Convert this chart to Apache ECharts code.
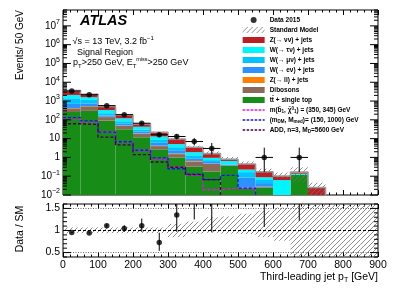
<!DOCTYPE html>
<html><head><meta charset="utf-8">
<script src="https://cdn.jsdelivr.net/npm/echarts@6/dist/echarts.min.js"></script>
<style>html,body{margin:0;padding:0;background:#fff}#c{width:403px;height:289px}</style>
</head><body><div id="c"></div>
<script>
// ---------------- data ----------------
const binLow = [0,50,100,150,200,250,300,350,400,450,500,550,600,650,700,750,800,850];
const BW = 50;
const ttbar  = [260, 300, 90, 32, 12, 2.7, 1.0, 0.32, 0.18, 0.35, 0.023, 0.025, 0, 0.12, 0, 0, 0, 0];
const dibos  = [150, 225, 50, 16, 6, 1.3, 0.5, 0.28, 0.27, 0.03, 0.002, 0.003, 0, 0, 0, 0, 0, 0];
const zll    = [15, 15, 5, 2, 0.8, 0.2, 0.1, 0.05, 0.02, 0, 0, 0, 0, 0, 0, 0, 0, 0];
const wenu   = [280, 210, 25, 12, 5, 1.8, 0.8, 0.25, 0.1, 0.02, 0.06, 0.015, 0, 0, 0, 0, 0, 0];
const wmunu  = [700, 400, 55, 22, 7, 2.5, 1.1, 0.4, 0.15, 0.03, 0.08, 0.02, 0, 0, 0, 0, 0, 0];
const wtaunu = [700, 450, 105, 36, 12, 4.5, 1.6, 0.6, 0.23, 0.22, 0.06, 0.025, 0.062, 0.015, 0, 0, 0, 0];
const znunu  = [1500, 710, 190, 61, 17, 9, 4.5, 1.6, 0.65, 0.15, 0.22, 0.085, 0.04, 0.03, 0.025, 0, 0, 0];

const sigSbottom = [108, 75, 22, 6.5, 2.4, 0.85, 0.32, 0.11, 0.019, 0.023, 0.022, 0, 0, 0, 0, 0, 0, 0];
const sigDM      = [131, 87, 22, 6.8, 2.4, 0.95, 0.25, 0.13, 0.065, 0.11, 0.023, 0, 0, 0, 0, 0, 0, 0];
const sigADD     = [62, 56, 12, 4.6, 1.4, 0.57, 0.3, 0.12, 0.065, 0, 0, 0, 0, 0, 0, 0, 0, 0];

const dataVals  = [3430, 2180, 570, 189, 66, 16, 13, 7, 3, 0, 0, 1, 0, 1, 0, 0, 0, 0];
const dataErrLo = [3371, 2133, 546, 175, 58, 12.0, 9.4, 4.4, 1.4, 0, 0, 0.17, 0, 0.17, 0, 0, 0, 0];
const dataErrHi = [3489, 2227, 594, 203, 74, 20.1, 16.7, 10.6, 5.9, 0, 0, 3.3, 0, 3.3, 0, 0, 0, 0];

const ratioVals = [0.955, 0.945, 1.11, 1.045, 1.11, 0.73, 1.35, 2.0, 1.9, null, null, 5.9, null, 6.1, null, null, null, null];
const ratioLo   = [0.94, 0.93, 1.07, 0.97, 0.97, 0.54, 0.97, 1.25, 0.96, null, null, 1.08, null, 1.22, null, null, null, null];
const ratioHi   = [0.97, 0.96, 1.15, 1.12, 1.27, 0.95, 1.75, 3.0, 3.7, null, null, 19, null, 20, null, null, null, null];

const bandLo = [0.94, 0.94, 0.94, 0.94, 0.94, 0.94, 0.85, 0.93, 0.95, 0.93, 0.92, 0.85, 0.77, 0.3, 0.3, 0.3, 0.3, 0.3];
const bandHi = [1.07, 1.07, 1.07, 1.07, 1.07, 1.07, 1.15, 1.2, 1.3, 1.32, 1.38, 1.45, 1.52, 1.8, 1.8, 1.8, 1.8, 1.8];

const xTickLabels = ['0','100','200','300','400','500','600','700','800','900'];

// ---------------- setup ----------------
const FONT = '"Liberation Sans", Arial, Helvetica, sans-serif';
const Y_MIN = 0.01, Y_MAX = 7e7, R_MIN = 0.4, R_MAX = 1.6;
const LOW = 1e-5; // draw-only stand-in for empty bins (clipped below the frame)

function makeHatch() {
  const c = document.createElement('canvas'); c.width = 5; c.height = 5;
  const g = c.getContext('2d');
  g.strokeStyle = '#707070'; g.lineWidth = 0.8;
  g.beginPath();
  g.moveTo(0, 5); g.lineTo(5, 0);
  g.moveTo(-1, 1); g.lineTo(1, -1);
  g.moveTo(4, 6); g.lineTo(6, 4);
  g.stroke();
  return c;
}
const hatch = { image: makeHatch(), repeat: 'repeat' };

const comps = [
  { name: 'tt\u0304 + single top', vals: ttbar,  color: '#178C17' },
  { name: 'Dibosons',              vals: dibos,  color: '#8C6A5A' },
  { name: 'Z(\u2192 ll) + jets',   vals: zll,    color: '#FF8000' },
  { name: 'W(\u2192 e\u03bd) + jets', vals: wenu, color: '#2A93FF' },
  { name: 'W(\u2192 \u03bc\u03bd) + jets', vals: wmunu, color: '#00C4FF' },
  { name: 'W(\u2192 \u03c4\u03bd) + jets', vals: wtaunu, color: '#00F6FF' },
  { name: 'Z(\u2192 \u03bd\u03bd) + jets', vals: znunu, color: '#BC1E24' }
];

const sm = binLow.map((_, k) => comps.reduce((s, c) => s + c.vals[k], 0));

function clipRect(p0, p1, cs) {
  return echarts.graphic.clipRectByRect(
    { x: p0[0], y: p0[1], width: p1[0] - p0[0], height: p1[1] - p0[1] },
    { x: cs.x, y: cs.y, width: cs.width, height: cs.height });
}
function rectRenderer(fill) {
  return function (params, api) {
    const p0 = api.coord([api.value(0), api.value(3)]);
    const p1 = api.coord([api.value(1), api.value(2)]);
    const shape = clipRect(p0, p1, params.coordSys);
    if (!shape) return null;
    return { type: 'rect', shape: shape, style: { fill: fill } };
  };
}

const series = [];
// stack
let cumBelow = binLow.map(() => 0);
comps.forEach(c => {
  const rows = [];
  binLow.forEach((x, k) => {
    const lo = cumBelow[k], hi = lo + c.vals[k];
    if (c.vals[k] > 0 && hi > Y_MIN) rows.push([x, x + BW, Math.max(lo, Y_MIN), hi]);
  });
  cumBelow = cumBelow.map((v, k) => v + c.vals[k]);
  series.push({
    type: 'custom', name: c.name, xAxisIndex: 0, yAxisIndex: 0, z: 2,
    renderItem: rectRenderer(c.color), itemStyle: { color: c.color },
    encode: { x: [0, 1], y: [2, 3] }, data: rows, silent: true
  });
});

// SM uncertainty (top)
const smBandRows = [];
binLow.forEach((x, k) => {
  if (sm[k] > 0) smBandRows.push([x, x + BW, Math.max(sm[k] * bandLo[k], Y_MIN), sm[k] * bandHi[k]]);
});
series.push({
  type: 'custom', name: 'Standard Model', xAxisIndex: 0, yAxisIndex: 0, z: 3,
  renderItem: rectRenderer(hatch), itemStyle: { color: hatch },
  encode: { x: [0, 1], y: [2, 3] }, data: smBandRows, silent: true
});
// SM outline
function stepPoints(vals) {
  const pts = binLow.map((x, k) => [x, vals[k] > 0 ? vals[k] : LOW]);
  pts.push([binLow[binLow.length - 1] + BW, vals[vals.length - 1] > 0 ? vals[vals.length - 1] : LOW]);
  return pts;
}
series.push({
  type: 'line', name: 'smline', xAxisIndex: 0, yAxisIndex: 0, z: 4, step: 'end',
  data: stepPoints(sm), symbol: 'none', clip: true,
  lineStyle: { color: '#9a9a9a', width: 1.6 }, silent: true
});

// signals
const sigs = [
  { name: 'sbottom', vals: sigSbottom, color: '#FF00FF' },
  { name: 'dm', vals: sigDM, color: '#1010FF' },
  { name: 'add', vals: sigADD, color: '#420040' }
];
sigs.forEach(s => series.push({
  type: 'line', name: s.name, xAxisIndex: 0, yAxisIndex: 0, z: 5, step: 'end',
  data: stepPoints(s.vals), symbol: 'none', showSymbol: false, clip: true,
  itemStyle: { color: s.color },
  lineStyle: { color: s.color, width: 1.3, type: [3, 2] }, silent: true
}));

// data (top)
const dataPts = [], dataErr = [];
binLow.forEach((x, k) => {
  if (dataVals[k] > 0) {
    dataPts.push([x + BW / 2, dataVals[k]]);
    dataErr.push([x + BW / 2, dataErrLo[k], dataErrHi[k], dataVals[k]]);
  }
});
series.push({
  type: 'custom', name: 'dataerr', xAxisIndex: 0, yAxisIndex: 0, z: 6,
  encode: { x: 0, y: [1, 2, 3] }, data: dataErr, silent: true,
  renderItem: function (params, api) {
    const xc = api.value(0), lo = api.value(1), hi = api.value(2), v = api.value(3);
    const a = api.coord([xc, Math.max(lo, Y_MIN)]), b = api.coord([xc, Math.min(hi, Y_MAX)]);
    const l = api.coord([xc - BW / 2, v]), r = api.coord([xc + BW / 2, v]);
    return { type: 'group', children: [
      { type: 'line', shape: { x1: a[0], y1: a[1], x2: b[0], y2: b[1] }, style: { stroke: '#000', lineWidth: 1 } },
      { type: 'line', shape: { x1: l[0], y1: l[1], x2: r[0], y2: r[1] }, style: { stroke: '#000', lineWidth: 1 } }
    ] };
  }
});
series.push({
  type: 'scatter', name: 'Data 2015', xAxisIndex: 0, yAxisIndex: 0, z: 7,
  data: dataPts, symbol: 'circle', symbolSize: 5.5, itemStyle: { color: '#000' }, silent: true
});

// ---------------- ratio panel ----------------
const rBandRows = binLow.map((x, k) => [x, x + BW, Math.max(bandLo[k], R_MIN), Math.min(bandHi[k], R_MAX)]);
series.push({
  type: 'custom', name: 'rband', xAxisIndex: 2, yAxisIndex: 1, z: 2,
  renderItem: rectRenderer(hatch), encode: { x: [0, 1], y: [2, 3] }, data: rBandRows, silent: true
});
const rPts = [], rErr = [];
binLow.forEach((x, k) => {
  if (ratioVals[k] != null) {
    rPts.push([x + BW / 2, ratioVals[k]]);
    rErr.push([x + BW / 2, Math.max(ratioLo[k], R_MIN), Math.min(ratioHi[k], R_MAX)]);
  }
});
series.push({
  type: 'custom', name: 'rerr', xAxisIndex: 2, yAxisIndex: 1, z: 6,
  encode: { x: 0, y: [1, 2] }, data: rErr, silent: true,
  renderItem: function (params, api) {
    const a = api.coord([api.value(0), api.value(1)]), b = api.coord([api.value(0), api.value(2)]);
    return { type: 'line', shape: { x1: a[0], y1: a[1], x2: b[0], y2: b[1] }, style: { stroke: '#000', lineWidth: 1 } };
  }
});
series.push({
  type: 'scatter', name: 'rdata', xAxisIndex: 2, yAxisIndex: 1, z: 7, clip: true,
  data: rPts, symbol: 'circle', symbolSize: 5.5, itemStyle: { color: '#000' }, silent: true,
  markLine: {
    silent: true, symbol: ['none', 'none'], label: { show: false }, animation: false,
    data: [
      { yAxis: 1, lineStyle: { color: '#000', width: 1, type: [3, 2] } },
      { yAxis: 0.5, lineStyle: { color: '#444', width: 0.8, type: [1, 1.5] } },
      { yAxis: 1.5, lineStyle: { color: '#444', width: 0.8, type: [1, 1.5] } }
    ]
  }
});

// ---------------- y ticks (both sides, inside) ----------------
const logMajor = [], logMinor = [];
for (let n = -2; n <= 7; n++) {
  logMajor.push(Math.pow(10, n));
  for (let m = 2; m <= 9; m++) if (m * Math.pow(10, n) <= Y_MAX) logMinor.push(m * Math.pow(10, n));
}
const rMajor = [0.5, 1.0, 1.5];
const rMinor = [0.4, 0.6, 0.7, 0.8, 0.9, 1.1, 1.2, 1.3, 1.4, 1.6];
function yTicks(majors, minors, majLen, minLen) {
  return function (params, api) {
    const cs = params.coordSys, ch = [];
    const add = (v, len) => {
      const y = api.coord([0, v])[1];
      if (y < cs.y - 0.6 || y > cs.y + cs.height + 0.6) return;
      ch.push({ type: 'line', shape: { x1: cs.x, y1: y, x2: cs.x + len, y2: y }, style: { stroke: '#000', lineWidth: 1 } });
      ch.push({ type: 'line', shape: { x1: cs.x + cs.width, y1: y, x2: cs.x + cs.width - len, y2: y }, style: { stroke: '#000', lineWidth: 1 } });
    };
    majors.forEach(v => add(v, majLen));
    minors.forEach(v => add(v, minLen));
    return { type: 'group', children: ch };
  };
}
series.push({ type: 'custom', name: 'yt0', xAxisIndex: 0, yAxisIndex: 0, z: 9, silent: true,
  data: [[0, 1]], renderItem: yTicks(logMajor, logMinor, 8, 4) });
series.push({ type: 'custom', name: 'yt1', xAxisIndex: 2, yAxisIndex: 1, z: 9, silent: true,
  data: [[0, 1]], renderItem: yTicks(rMajor, rMinor, 8, 4) });

// ---------------- axes ----------------
function xAx(grid, pos, labels) {
  return {
    type: 'value', gridIndex: grid, position: pos, min: 0, max: 900, interval: 100,
    axisLine: { show: false }, splitLine: { show: false },
    axisTick: { show: true, inside: true, length: 5, lineStyle: { color: '#000', width: 1 } },
    minorTick: { show: true, splitNumber: 5, length: 2.5, lineStyle: { color: '#000', width: 1 } },
    axisLabel: labels ? {
      show: true, fontSize: 10.5, fontFamily: FONT, color: '#000', margin: 3,
      formatter: v => xTickLabels[Math.round(v / 100)]
    } : { show: false }
  };
}
const supExp = e => (e < 0 ? '\u2212' + (-e) : '' + e);

const legendLabels = {
  'sbottom': 'm(b\u0303{sub|1}, \u03c7\u0303{sup|0}{sub|1}) = (350, 345) GeV',
  'dm': '(m{sub|DM}, M{sub|med})= (150, 1000) GeV',
  'add': 'ADD, n=3, M{sub|D}=5600 GeV'
};
const LW = 'bold';
const legendRich = {
  sub: { fontSize: 4.5, lineHeight: 5, verticalAlign: 'bottom', fontFamily: FONT, fontWeight: LW, color: '#000' },
  sup: { fontSize: 4.5, lineHeight: 5, verticalAlign: 'top', fontFamily: FONT, fontWeight: LW, color: '#000' }
};
const lineLegend = (name, color) => ({
  name: name, itemStyle: { opacity: 0, color: color, borderWidth: 0 },
  lineStyle: { color: color, width: 1.3, type: [2.5, 1.5] }
});

const option = {
  animation: false,
  backgroundColor: '#fff',
  grid: [
    { left: 63, top: 10, width: 315, height: 185, show: true, borderColor: '#000', borderWidth: 1, backgroundColor: 'transparent', containLabel: false, outerBoundsMode: 'none' },
    { left: 63, top: 204, width: 315, height: 53, show: true, borderColor: '#000', borderWidth: 1, backgroundColor: 'transparent', containLabel: false, outerBoundsMode: 'none' }
  ],
  xAxis: [xAx(0, 'bottom', false), xAx(0, 'top', false), xAx(1, 'bottom', true), xAx(1, 'top', false)],
  yAxis: [
    {
      type: 'log', logBase: 10, gridIndex: 0, min: Y_MIN, max: Y_MAX,
      axisLine: { show: false }, axisTick: { show: false }, splitLine: { show: false }, minorTick: { show: false },
      axisLabel: {
        show: true, fontSize: 10, fontFamily: FONT, color: '#000', margin: 3, lineHeight: 14,
        formatter: function (v) {
          const lg = Math.log10(v), e = Math.round(lg);
          if (Math.abs(lg - e) > 1e-6) return '';
          if (e === 0) return '1';
          if (e === 1) return '10';
          return '10{sup|' + supExp(e) + '}';
        },
        rich: { sup: { fontSize: 7, lineHeight: 7, verticalAlign: 'top', fontFamily: FONT, color: '#000' } }
      }
    },
    {
      type: 'value', gridIndex: 1, min: R_MIN, max: R_MAX, interval: 0.1,
      axisLine: { show: false }, axisTick: { show: false }, splitLine: { show: false },
      axisLabel: {
        show: true, fontSize: 10.5, fontFamily: FONT, color: '#000', margin: 3,
        formatter: function (v) {
          if (Math.abs(v - 0.5) < 1e-6) return '0.5';
          if (Math.abs(v - 1) < 1e-6) return '1';
          if (Math.abs(v - 1.5) < 1e-6) return '1.5';
          return '';
        }
      }
    }
  ],
  legend: {
    orient: 'vertical', left: 242, top: 16, itemWidth: 22, itemHeight: 6, itemGap: 2,
    selectedMode: false, padding: 0,
    textStyle: { fontSize: 6.5, fontWeight: LW, fontFamily: FONT, color: '#000', lineHeight: 8, rich: legendRich },
    formatter: name => legendLabels[name] || name,
    data: [
      { name: 'Data 2015', icon: 'circle' },
      { name: 'Standard Model', icon: 'rect', itemStyle: { color: hatch } },
      { name: 'Z(\u2192 \u03bd\u03bd) + jets', icon: 'rect' },
      { name: 'W(\u2192 \u03c4\u03bd) + jets', icon: 'rect' },
      { name: 'W(\u2192 \u03bc\u03bd) + jets', icon: 'rect' },
      { name: 'W(\u2192 e\u03bd) + jets', icon: 'rect' },
      { name: 'Z(\u2192 ll) + jets', icon: 'rect' },
      { name: 'Dibosons', icon: 'rect' },
      { name: 'tt\u0304 + single top', icon: 'rect' },
      lineLegend('sbottom', '#FF00FF'), lineLegend('dm', '#1010FF'), lineLegend('add', '#420040')
    ]
  },
  graphic: [
    { type: 'text', x: 80, y: 21, silent: true, style: { text: 'ATLAS', fontSize: 14.5, fontWeight: 'bold', fontStyle: 'italic', fontFamily: FONT, fill: '#000', align: 'left', verticalAlign: 'middle' } },
    { type: 'text', x: 72.5, y: 41.5, silent: true, style: {
      text: '\u221as = 13 TeV, 3.2 fb{sup|\u22121}', fontSize: 9, fontFamily: FONT, fill: '#000', align: 'left', verticalAlign: 'middle', lineHeight: 12,
      rich: { sup: { fontSize: 6, lineHeight: 6, verticalAlign: 'top', fontFamily: FONT, fill: '#000' } } } },
    { type: 'text', x: 77, y: 52.5, silent: true, style: { text: 'Signal Region', fontSize: 9, fontFamily: FONT, fill: '#000', align: 'left', verticalAlign: 'middle' } },
    { type: 'text', x: 73, y: 63, silent: true, style: {
      text: 'p{sub|T}>250 GeV, E{sub|T}{sup|miss}>250 GeV', fontSize: 9, fontFamily: FONT, fill: '#000', align: 'left', verticalAlign: 'middle', lineHeight: 13,
      rich: {
        sub: { fontSize: 6, lineHeight: 6, verticalAlign: 'bottom', fontFamily: FONT, fill: '#000' },
        sup: { fontSize: 5.5, lineHeight: 6, verticalAlign: 'top', fontFamily: FONT, fill: '#000' }
      } } },
    { type: 'text', x: 20, y: 10, rotation: Math.PI / 2, silent: true, style: { text: 'Events/ 50 GeV', fontSize: 10, fontFamily: FONT, fill: '#000', align: 'right', verticalAlign: 'middle' } },
    { type: 'text', x: 20, y: 229, rotation: Math.PI / 2, silent: true, style: { text: 'Data / SM', fontSize: 10.5, fontFamily: FONT, fill: '#000', align: 'center', verticalAlign: 'middle' } },
    { type: 'text', x: 378, y: 277, silent: true, style: {
      text: 'Third-leading jet p{sub|T} [GeV]', fontSize: 10.5, fontFamily: FONT, fill: '#000', align: 'right', verticalAlign: 'middle', lineHeight: 14,
      rich: { sub: { fontSize: 7, lineHeight: 7, verticalAlign: 'bottom', fontFamily: FONT, fill: '#000' } } } }
  ],
  series: series
};

const chart = echarts.init(document.getElementById('c'), null, { renderer: 'canvas', width: 403, height: 289 });
chart.setOption(option);
</script>
</body></html>
